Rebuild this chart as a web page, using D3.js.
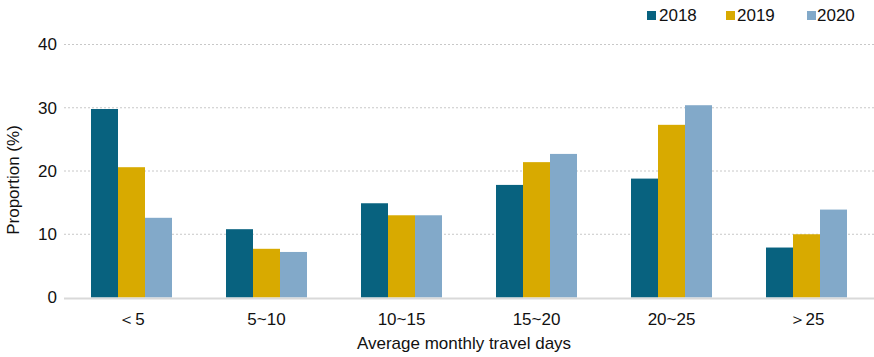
<!DOCTYPE html>
<html><head><meta charset="utf-8">
<script src="https://cdn.jsdelivr.net/npm/d3@7"></script>
<style>body{margin:0;background:#fff}svg{display:block;font-family:"Liberation Sans",Arial,sans-serif}</style>
</head><body><svg id="c" width="874" height="357"></svg>
<script>
const categories = ["＜5","5~10","10~15","15~20","20~25","＞25"];
const seriesNames = ["2018","2019","2020"];
const s2018 = [29.8,10.8,14.9,17.8,18.8,7.9];
const s2019 = [20.6,7.7,13.0,21.4,27.3,10.0];
const s2020 = [12.6,7.2,13.0,22.7,30.4,13.9];
const colors = ["#08627F","#D8AA00","#82A9C9"];
const yTicks = [0,10,20,30,40];

const series = [s2018,s2019,s2020];
const svg = d3.select("#c");
const x = d3.scaleBand().domain(categories).range([64,874]).paddingInner(0.4).paddingOuter(0.2);
const xs = d3.scaleBand().domain(seriesNames).range([0,x.bandwidth()]);
const y = d3.scaleLinear().domain([0,40]).range([297.5,44.5]);
const txt = "#111";

// grid
svg.append("g").selectAll("line").data(yTicks.filter(d=>d>0)).join("line")
  .attr("x1",64).attr("x2",874).attr("y1",d=>y(d)).attr("y2",d=>y(d))
  .attr("stroke","#c8c8c8").attr("stroke-width",1).attr("stroke-dasharray","2,2");

// bars
seriesNames.forEach((s,i)=>{
  svg.append("g").selectAll("rect").data(series[i]).join("rect")
    .attr("x",(d,j)=>x(categories[j])+xs(s))
    .attr("width",xs.bandwidth())
    .attr("y",d=>y(d)).attr("height",d=>y(0)-y(d))
    .attr("fill",colors[i]);
});

// baseline
svg.append("line").attr("x1",64).attr("x2",874).attr("y1",y(0)+1).attr("y2",y(0)+1)
  .attr("stroke","#d9d9d9").attr("stroke-width",2);

// y tick labels
const yAxis = d3.axisLeft(y).tickValues(yTicks).tickSize(0).tickPadding(0);
const ya = svg.append("g").attr("transform","translate(57,0)").call(yAxis);
ya.select(".domain").remove();
ya.selectAll("text").attr("font-size",17).attr("fill",txt).attr("font-family","Liberation Sans, Arial, sans-serif");

// x tick labels
const xAxis = d3.axisBottom(x).tickSize(0).tickPadding(0);
const xa = svg.append("g").attr("transform","translate(0,313)").call(xAxis);
xa.select(".domain").remove();
xa.selectAll("text").attr("font-size",17).attr("fill",txt).attr("font-family","Liberation Sans, Arial, sans-serif");

// axis titles
svg.append("text").attr("x",464).attr("y",349).attr("text-anchor","middle")
  .attr("font-size",17).attr("fill",txt).text("Average monthly travel days");
svg.append("text").attr("transform","translate(19,180) rotate(-90)").attr("text-anchor","middle")
  .attr("font-size",17).attr("fill",txt).text("Proportion (%)");

// legend
const legSq = [647,726,807];
const legTx = [659,737,817];
seriesNames.forEach((s,i)=>{
  svg.append("rect").attr("x",legSq[i]).attr("y",11).attr("width",9).attr("height",9).attr("fill",colors[i]);
  svg.append("text").attr("x",legTx[i]).attr("y",21).attr("font-size",17).attr("fill",txt).text(s);
});
</script></body></html>
